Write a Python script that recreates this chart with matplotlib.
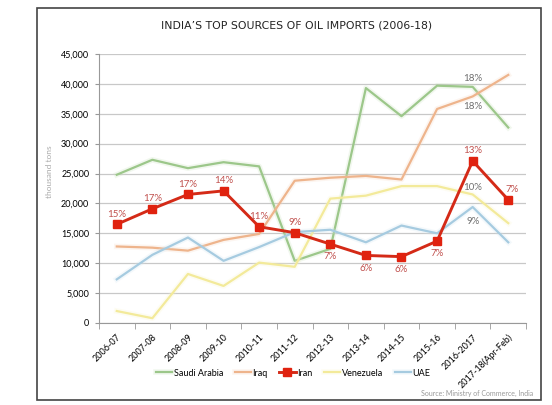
import numpy as np
import matplotlib.pyplot as plt
from matplotlib.patches import Rectangle
import matplotlib.patheffects as pe

years = ['2006-07', '2007-08', '2008-09', '2009-10', '2010-11', '2011-12',
         '2012-13', '2013-14', '2014-15', '2015-16', '2016-2017', '2017-18(Apr-Feb)']

saudi = [24800, 27300, 25900, 26900, 26200, 10400, 12400, 39300, 34600, 39700, 39500, 32700]
iraq = [12800, 12600, 12100, 13900, 14900, 23800, 24300, 24600, 24000, 35800, 37900, 41500]
iran = [16500, 19100, 21500, 22100, 16100, 15100, 13200, 11300, 11100, 13700, 27100, 20600]
venezuela = [2000, 800, 8200, 6200, 10100, 9400, 20800, 21300, 22900, 22900, 21500, 16700]
uae = [7300, 11400, 14300, 10400, 12700, 15200, 15600, 13500, 16300, 15000, 19400, 13500]

iran_share = ['15%', '17%', '17%', '14%', '11%', '9%', '7%', '6%', '6%', '7%', '13%', '7%']
# 2016-17 shares of the other countries
other_share = {'saudi': '18%', 'iraq': '18%', 'venezuela': '10%', 'uae': '9%'}

plt.rcParams['font.family'] = ['Lato', 'DejaVu Sans']

fig = plt.figure(figsize=(5.52, 4.05), dpi=100)
fig.patch.set_facecolor('white')

# outer frame
fig.patches.append(Rectangle((0.067, 0.012), 0.913, 0.968, transform=fig.transFigure,
                             fill=False, edgecolor='#444444', linewidth=1.2))

ax = fig.add_axes([0.1793, 0.2025, 0.7737, 0.6642])
x = np.arange(len(years))

glow = lambda c: [pe.withStroke(linewidth=4, foreground=c, alpha=0.25)]
ax.plot(x, saudi, color='#9cc78a', lw=1.6, label='Saudi Arabia', path_effects=glow('#c9e3bd'))
ax.plot(x, iraq, color='#eeb48c', lw=1.6, label='Iraq', path_effects=glow('#f7d9c4'))
ax.plot(x, iran, color='#d42a17', lw=2.1, marker='s', markersize=6,
        markerfacecolor='#e0220f', markeredgecolor='#e0220f', label='Iran', zorder=5)
ax.plot(x, venezuela, color='#f3ea9a', lw=1.6, label='Venezuela', path_effects=glow('#faf5cc'))
ax.plot(x, uae, color='#a6cbe0', lw=1.6, label='UAE', path_effects=glow('#d3e6f0'))

# Iran share labels
for i, (v, s) in enumerate(zip(iran, iran_share)):
    if 6 <= i <= 9:
        off = (0, -6)
        va = 'top'
    elif i == 11:
        off = (3, 4)
        va = 'bottom'
    else:
        off = (0, 4)
        va = 'bottom'
    ax.annotate(s, (i, v), xytext=off, textcoords='offset points', ha='center', va=va,
                fontsize=7, color='#c0504d', zorder=6)

k = 10
ax.annotate(other_share['saudi'], (k, saudi[k]), xytext=(0, 3), textcoords='offset points',
            ha='center', va='bottom', fontsize=7, color='#6f6f6f')
ax.annotate(other_share['iraq'], (k, iraq[k]), xytext=(0, -4), textcoords='offset points',
            ha='center', va='top', fontsize=7, color='#6f6f6f')
ax.annotate(other_share['venezuela'], (k, venezuela[k]), xytext=(0, 2), textcoords='offset points',
            ha='center', va='bottom', fontsize=7, color='#6f6f6f')
ax.annotate(other_share['uae'], (k, uae[k]), xytext=(0, -7), textcoords='offset points',
            ha='center', va='top', fontsize=7, color='#6f6f6f')

ax.set_xlim(-0.5, len(years) - 0.5)
ax.set_ylim(0, 45000)
ax.set_yticks(np.arange(0, 45001, 5000))
ax.set_yticklabels([f'{v:,}' for v in range(0, 45001, 5000)])
ax.yaxis.grid(True, color='#c8c8c8', linewidth=0.9)
ax.set_axisbelow(True)

ax.set_xticks(x)
ax.set_xticklabels(years, rotation=45, ha='right', rotation_mode='anchor')
ax.set_xticks(np.arange(-0.5, len(years)), minor=True)
ax.tick_params(axis='x', which='major', length=0, labelsize=6.5, pad=7)
ax.tick_params(axis='x', which='minor', length=4, color='#999999')
ax.tick_params(axis='y', length=3, color='#999999', labelsize=6.5, pad=4)

for side in ['top', 'right']:
    ax.spines[side].set_visible(False)
for side in ['left', 'bottom']:
    ax.spines[side].set_color('#999999')

fig.text(0.538, 0.938, 'INDIA’S TOP SOURCES OF OIL IMPORTS (2006-18)', ha='center', va='center',
         fontsize=7.8, color='#222222', family=['DejaVu Sans'])
fig.text(0.09, 0.575, 'thousand tons', rotation=90, ha='center', va='center',
         fontsize=6, color='#aaaaaa')

ax.legend(loc='center', bbox_to_anchor=(0.531, 0.079), bbox_transform=fig.transFigure,
          ncol=5, frameon=False, fontsize=6.5, handlelength=1.8, columnspacing=1.3,
          handletextpad=0.15)

fig.text(0.966, 0.029, 'Source: Ministry of Commerce, India', ha='right', va='center',
         fontsize=5, color='#999999')

plt.savefig('out.png', dpi=100)
